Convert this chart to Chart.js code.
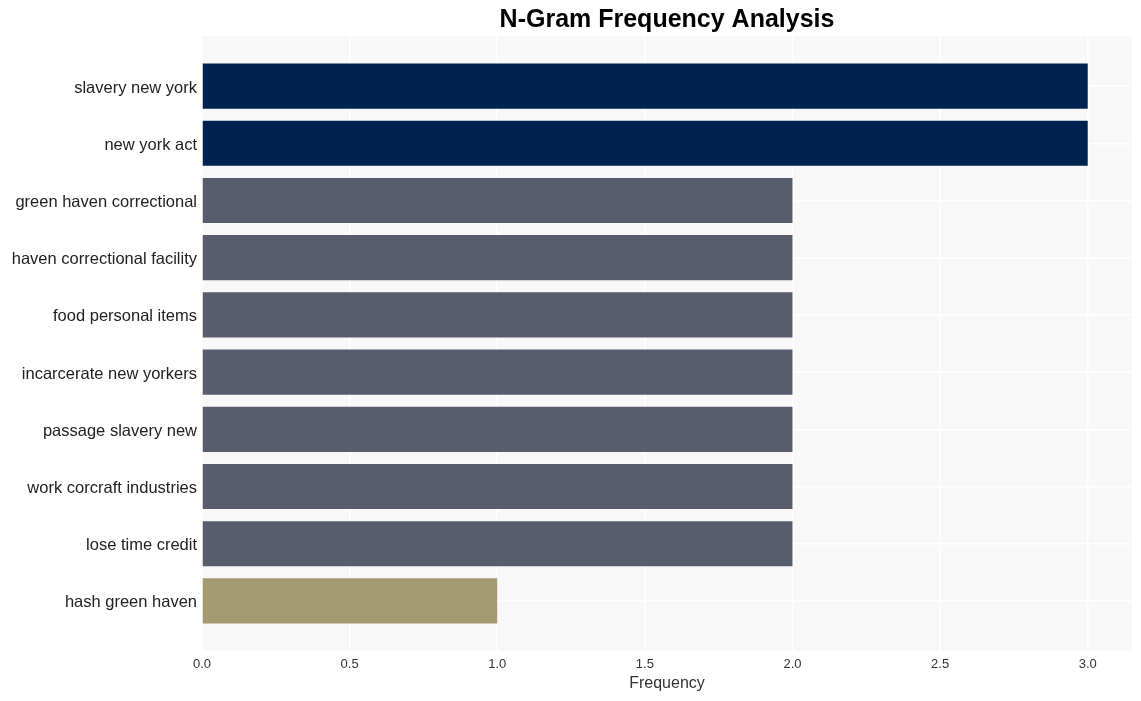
<!DOCTYPE html>
<html lang="en">
<head>
    <meta charset="UTF-8">
    <title>N-Gram Frequency Analysis</title>
    <script src="https://cdn.jsdelivr.net/npm/chart.js"></script>
    <style>
        html, body { margin: 0; padding: 0; background: #fff; }
        #wrap { width: 1141px; height: 701px; }
    </style>
</head>
<body>
    <div id="wrap"><canvas id="ngramChart" width="1141" height="701"></canvas></div>
    <script>
        // data
        const ngrams = [
            'slavery new york', 'new york act', 'green haven correctional',
            'haven correctional facility', 'food personal items', 'incarcerate new yorkers',
            'passage slavery new', 'work corcraft industries', 'lose time credit', 'hash green haven'
        ];
        const counts = [3, 3, 2, 2, 2, 2, 2, 2, 2, 1];
        const xTicks = [0, 0.5, 1, 1.5, 2, 2.5, 3];

        function barColor(v) {
            if (v >= 3) return '#00224e';
            if (v >= 2) return '#575d6d';
            return '#a39a72';
        }

        // plot background + title centred on the plot area
        const plotDecor = {
            id: 'plotDecor',
            beforeDraw(chart) {
                const a = chart.chartArea, ctx = chart.ctx;
                ctx.save();
                ctx.fillStyle = '#f8f8f8';
                ctx.fillRect(a.left, a.top, a.right - a.left, a.bottom - a.top);
                ctx.restore();
            },
            afterDraw(chart) {
                const a = chart.chartArea, ctx = chart.ctx;
                ctx.save();
                ctx.font = 'bold 25px "Liberation Sans", Arial, sans-serif';
                ctx.fillStyle = '#000';
                ctx.textAlign = 'center';
                ctx.textBaseline = 'middle';
                ctx.fillText('N-Gram Frequency Analysis', (a.left + a.right) / 2, 20);
                ctx.restore();
            }
        };

        const ctx = document.getElementById('ngramChart').getContext('2d');
        new Chart(ctx, {
            type: 'bar',
            data: {
                datasets: [{
                    label: 'Frequency',
                    data: counts.map((v, i) => ({ x: v, y: i })),
                    backgroundColor: counts.map(barColor),
                    borderWidth: 0,
                    barPercentage: 0.79,
                    categoryPercentage: 1
                }]
            },
            options: {
                indexAxis: 'y',
                responsive: false,
                animation: false,
                layout: { padding: { top: 36, right: 9, bottom: 0, left: 0 } },
                plugins: {
                    legend: { display: false },
                    title: { display: false },
                    tooltip: { enabled: false }
                },
                scales: {
                    x: {
                        type: 'linear',
                        min: 0,
                        max: 3.15,
                        afterBuildTicks: scale => { scale.ticks = xTicks.map(v => ({ value: v })); },
                        afterFit: scale => { scale.height = 50; },
                        grid: { color: '#ffffff', lineWidth: 1.5, drawTicks: false },
                        border: { display: false },
                        ticks: {
                            padding: 6,
                            color: '#333',
                            font: { family: '"Liberation Sans", Arial, sans-serif', size: 13 },
                            callback: v => Number(v).toFixed(1)
                        },
                        title: {
                            display: true,
                            text: 'Frequency',
                            color: '#333',
                            padding: { top: 0, bottom: 8 },
                            font: { family: '"Liberation Sans", Arial, sans-serif', size: 16 }
                        }
                    },
                    y: {
                        type: 'linear',
                        reverse: true,
                        offset: false,
                        bounds: 'data',
                        min: -0.875,
                        max: 9.875,
                        afterBuildTicks: scale => { scale.ticks = ngrams.map((_, i) => ({ value: i })); },
                        afterFit: scale => { scale.width = 202; },
                        grid: { color: '#ffffff', lineWidth: 1.5, drawTicks: false, offset: false },
                        border: { display: false },
                        ticks: {
                            padding: 5,
                            labelOffset: 2,
                            color: '#222',
                            font: { family: '"Liberation Sans", Arial, sans-serif', size: 16.5 },
                            callback: v => ngrams[v]
                        }
                    }
                }
            },
            plugins: [plotDecor]
        });
    </script>
</body>
</html>
